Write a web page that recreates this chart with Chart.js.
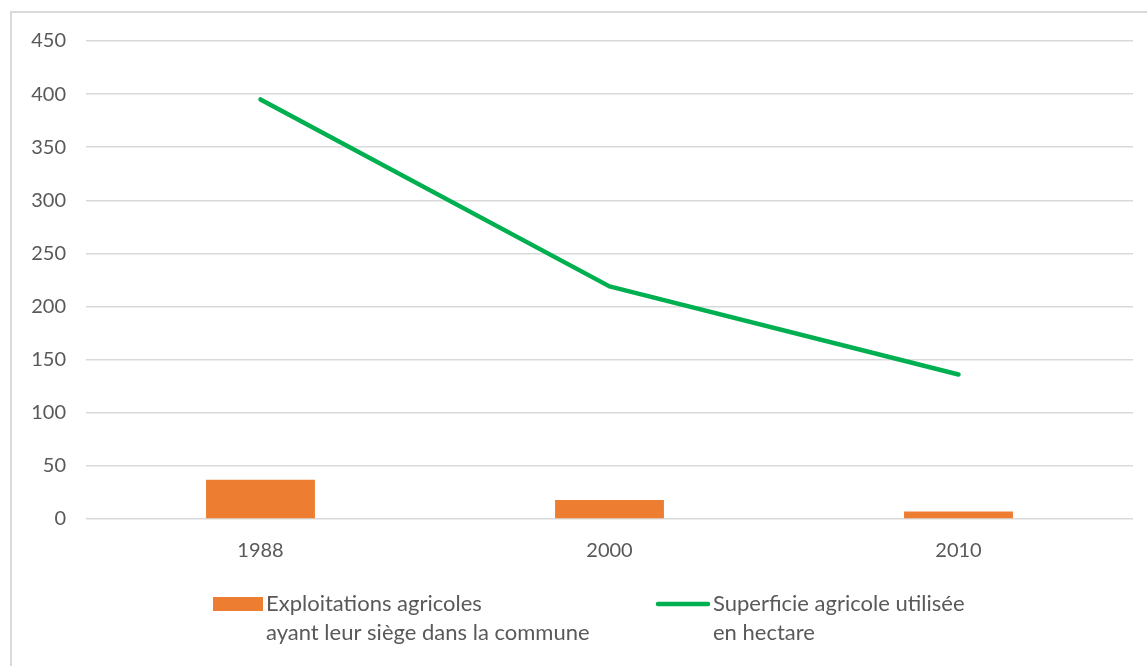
<!DOCTYPE html>
<html>
<head>
<meta charset="utf-8">
<script src="https://cdn.jsdelivr.net/npm/chart.js@4"></script>
<style>
  html, body { margin: 0; padding: 0; background: #ffffff; }
  #wrap { position: relative; width: 1147px; height: 666px; overflow: hidden; }
  canvas { display: block; }
</style>
</head>
<body>
<div id="wrap"><canvas id="c" width="1147" height="666"></canvas></div>
<script>
// Années du recensement agricole
const years = ['1988', '2000', '2010'];
// Nombre d'exploitations agricoles ayant leur siège dans la commune
const exploitations = [37, 18, 7];
// Superficie agricole utilisée (hectares)
const superficie = [395, 219, 136];
// Graduations de l'axe vertical
const yTicks = [0, 50, 100, 150, 200, 250, 300, 350, 400, 450];
// Libellés de légende (sur deux lignes)
const labelExploitations = ['Exploitations agricoles', 'ayant leur siège dans la commune'];
const labelSuperficie = ['Superficie agricole utilisée', 'en hectare'];

const FONT = 'Lato, "Open Sans", sans-serif';
const TEXT = '#595959';
const ORANGE = '#ed7d31';
const GREEN = '#00b050';

// Cadre gris autour du graphique
const framePlugin = {
  id: 'frame',
  beforeDraw(chart) {
    const ctx = chart.ctx;
    ctx.save();
    ctx.strokeStyle = '#d9d9d9';
    ctx.lineWidth = 2;
    ctx.strokeRect(11, 12, 2000, 2000);
    ctx.restore();
  }
};

// Légende dessinée sous l'axe des années
const legendPlugin = {
  id: 'legendBelow',
  afterDraw(chart) {
    const ctx = chart.ctx;
    const [barSet, lineSet] = chart.data.datasets;
    const y1 = 604, y2 = 633;
    ctx.save();
    ctx.font = '22px ' + FONT;
    ctx.textBaseline = 'middle';
    ctx.textAlign = 'left';

    ctx.fillStyle = barSet.backgroundColor;
    ctx.fillRect(213, 597, 50, 14);
    ctx.fillStyle = TEXT;
    ctx.fillText(barSet.label[0], 266, y1);
    ctx.fillText(barSet.label[1], 266, y2);

    ctx.strokeStyle = lineSet.borderColor;
    ctx.lineWidth = 4.5;
    ctx.lineCap = 'round';
    ctx.beginPath();
    ctx.moveTo(658, y1);
    ctx.lineTo(708, y1);
    ctx.stroke();
    ctx.fillText(lineSet.label[0], 713, y1);
    ctx.fillText(lineSet.label[1], 713, y2);
    ctx.restore();
  }
};

new Chart(document.getElementById('c'), {
  data: {
    labels: years,
    datasets: [
      {
        type: 'bar',
        label: labelExploitations,
        data: exploitations,
        backgroundColor: ORANGE,
        categoryPercentage: 1,
        barPercentage: 0.312,
        order: 1
      },
      {
        type: 'line',
        label: labelSuperficie,
        data: superficie,
        borderColor: GREEN,
        backgroundColor: GREEN,
        borderWidth: 4.5,
        borderCapStyle: 'round',
        borderJoinStyle: 'round',
        pointRadius: 0,
        tension: 0,
        fill: false,
        order: 0
      }
    ]
  },
  options: {
    responsive: false,
    animation: false,
    events: [],
    layout: { padding: { top: 41, right: 14, bottom: 0, left: 0 } },
    plugins: {
      legend: { display: false },
      tooltip: { enabled: false },
      title: { display: false }
    },
    scales: {
      x: {
        grid: { display: false, drawTicks: false },
        border: { display: false },
        ticks: { color: TEXT, font: { family: FONT, size: 20 }, padding: 20 },
        afterFit(scale) { scale.height = 147; }
      },
      y: {
        min: 0,
        max: 450,
        afterBuildTicks(scale) { scale.ticks = yTicks.map(v => ({ value: v })); },
        grid: { color: '#d9d9d9', lineWidth: 1.5, drawTicks: false },
        border: { display: false },
        ticks: { color: TEXT, font: { family: FONT, size: 20 }, padding: 20 },
        afterFit(scale) { scale.width = 86; }
      }
    }
  },
  plugins: [framePlugin, legendPlugin]
});
</script>
</body>
</html>
